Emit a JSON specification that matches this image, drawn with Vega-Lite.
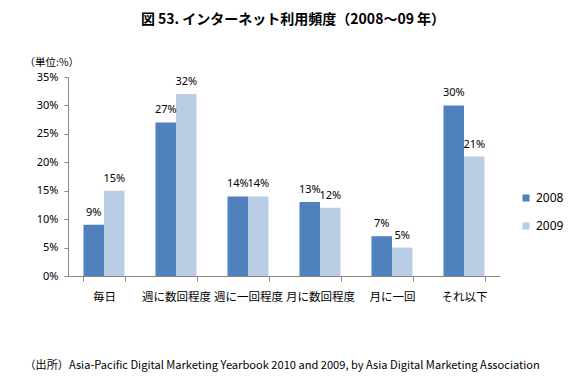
{
  "$schema": "https://vega.github.io/schema/vega-lite/v6.json",
  "width": 432,
  "height": 199,
  "autosize": {"type": "none"},
  "padding": {"left": 68, "top": 77, "right": 87, "bottom": 108},
  "background": "white",
  "title": {
    "text": "図 53. インターネット利用頻度（2008～09 年）",
    "font": "Noto Sans CJK JP",
    "fontSize": 14,
    "fontWeight": "bold",
    "color": "#000000",
    "anchor": "middle",
    "frame": "group",
    "dx": 9,
    "offset": 30
  },
  "data": {
    "values": [
      {"freq": "毎日", "year": "2008", "pct": 9},
      {"freq": "毎日", "year": "2009", "pct": 15},
      {"freq": "週に数回程度", "year": "2008", "pct": 27},
      {"freq": "週に数回程度", "year": "2009", "pct": 32},
      {"freq": "週に一回程度", "year": "2008", "pct": 14},
      {"freq": "週に一回程度", "year": "2009", "pct": 14},
      {"freq": "月に数回程度", "year": "2008", "pct": 13},
      {"freq": "月に数回程度", "year": "2009", "pct": 12},
      {"freq": "月に一回", "year": "2008", "pct": 7},
      {"freq": "月に一回", "year": "2009", "pct": 5},
      {"freq": "それ以下", "year": "2008", "pct": 30},
      {"freq": "それ以下", "year": "2009", "pct": 21}
    ]
  },
  "encoding": {
    "x": {
      "field": "freq",
      "type": "nominal",
      "sort": null,
      "scale": {"paddingInner": 0.43, "paddingOuter": 0.215},
      "axis": {
        "title": "（出所）Asia-Pacific Digital Marketing Yearbook 2010 and 2009, by Asia Digital Marketing Association",
        "titleFont": "Noto Sans CJK JP",
        "titleFontSize": 11.1,
        "titleFontWeight": "normal",
        "titleColor": "#000000",
        "titleAnchor": "start",
        "titleAlign": "left",
        "titleBaseline": "middle",
        "titleX": -44,
        "titleY": 89,
        "labelAngle": 0,
        "labelFont": "Noto Sans CJK JP",
        "labelFontSize": 11.5,
        "labelColor": "#000000",
        "labelPadding": 10,
        "tickBand": "extent",
        "tickSize": 5,
        "tickColor": "#888888",
        "domainColor": "#888888",
        "grid": false
      }
    },
    "xOffset": {"field": "year", "type": "nominal"},
    "y": {
      "field": "pct",
      "type": "quantitative",
      "scale": {"domain": [0, 35], "nice": false},
      "axis": {
        "values": [0, 5, 10, 15, 20, 25, 30, 35],
        "labelExpr": "datum.value + '%'",
        "labelFont": "Noto Sans",
        "labelFontSize": 11,
        "labelColor": "#000000",
        "labelPadding": 6,
        "tickSize": 4,
        "tickColor": "#888888",
        "domainColor": "#888888",
        "grid": false,
        "title": "（単位:%）",
        "titleFont": "Noto Sans CJK JP",
        "titleFontSize": 10.5,
        "titleFontWeight": "normal",
        "titleColor": "#000000",
        "titleAngle": 0,
        "titleAlign": "left",
        "titleBaseline": "middle",
        "titleX": -44,
        "titleY": -15
      }
    }
  },
  "layer": [
    {
      "mark": {"type": "bar"},
      "encoding": {
        "color": {
          "field": "year",
          "type": "nominal",
          "scale": {"domain": ["2008", "2009"], "range": ["#4F81BD", "#B9CDE5"]},
          "legend": {
            "title": null,
            "orient": "none",
            "legendX": 452,
            "legendY": 115,
            "symbolType": "square",
            "symbolSize": 50,
            "symbolStrokeWidth": 0,
            "labelFont": "Noto Sans",
            "labelFontSize": 12,
            "labelColor": "#000000",
            "rowPadding": 16,
            "labelOffset": 4
          }
        }
      }
    },
    {
      "transform": [{"calculate": "datum.pct + '%'", "as": "label"}],
      "mark": {"type": "text", "baseline": "bottom", "dy": -7, "font": "Noto Sans", "fontSize": 11, "color": "#000000"},
      "encoding": {
        "text": {"field": "label", "type": "nominal"},
        "detail": {"field": "year"}
      }
    }
  ],
  "config": {
    "view": {"stroke": null}
  }
}
